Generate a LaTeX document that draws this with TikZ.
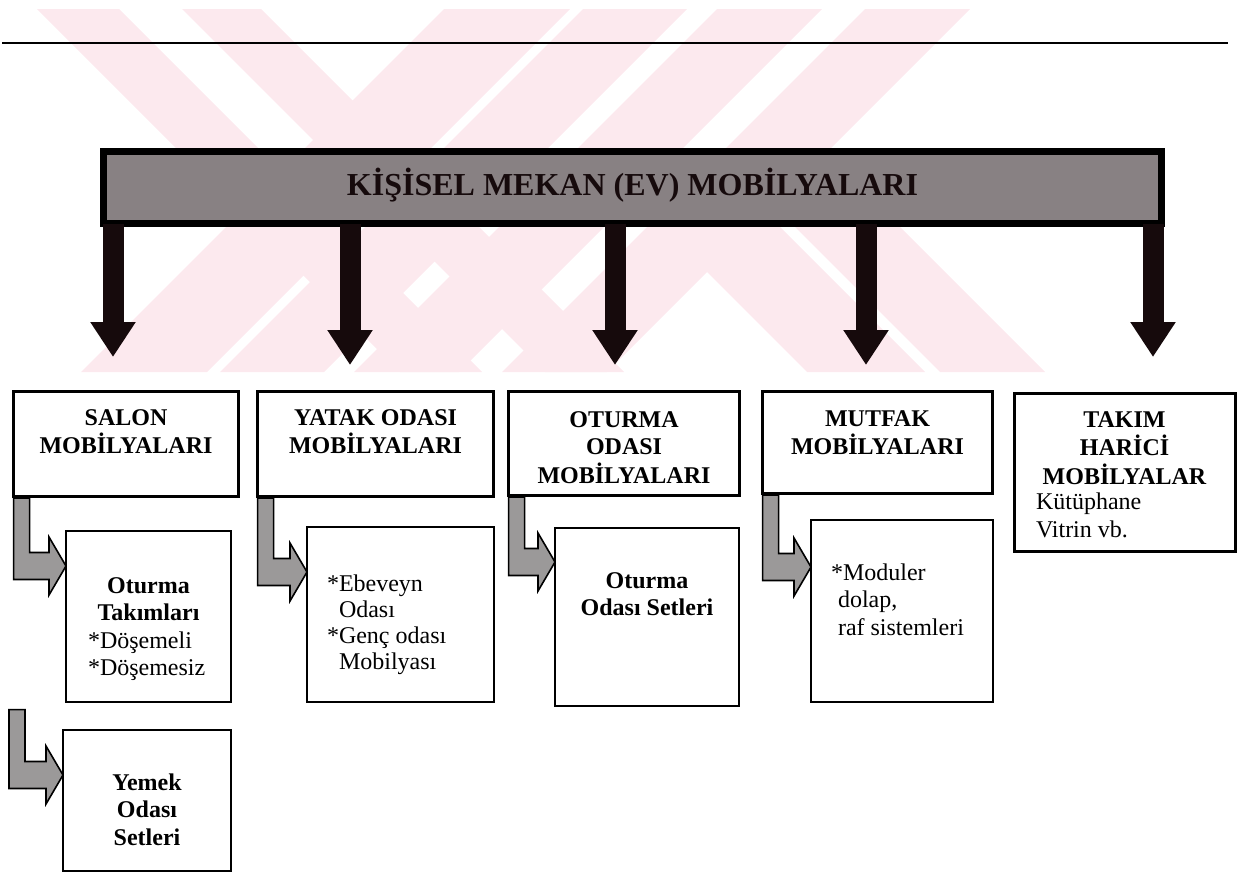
\documentclass[tikz,border=0pt]{standalone}
\usepackage{fontspec}
\setmainfont{Liberation Serif}
\usetikzlibrary{arrows.meta,calc}
\definecolor{wm}{RGB}{252,233,238}
\definecolor{barfill}{RGB}{136,129,131}
\definecolor{lfill}{RGB}{155,153,153}
\definecolor{ink}{RGB}{22,10,12}
\newcommand\tb[2]{\begin{tabular}[t]{@{}#1@{}}#2\end{tabular}}
% L-shaped block arrow from a start point (top-left of the stem) to a child box
\newcommand\Lconn[3]{\draw[larrow] let \p1=([yshift=-0.8pt]#1), \p2=($(#2.north west)+(0,#3)$) in
  (\x1,\y1) -- (\x1+8pt,\y1) -- (\x1+8pt,\y2+6.75pt) -- (\x2-8.5pt,\y2+6.75pt)
  -- (\x2-8.5pt,\y2+14.5pt) -- (\x2,\y2) -- (\x2-8.5pt,\y2-14.5pt)
  -- (\x2-8.5pt,\y2-6.75pt) -- (\x1,\y2-6.75pt) -- cycle;}
% watermark stripes: \wmB = down-right stripe, \wmS = down-left stripe (top edge given at y=#3)
\newcommand\wmB[3]{\fill[wm] (#1,#3) -- (#2,#3) -- ({#2+372-#3},372) -- ({#1+372-#3},372) -- cycle;}
\newcommand\wmS[2]{\fill[wm] (#1,9) -- (#2,9) -- ({#2-363},372) -- ({#1-363},372) -- cycle;}
\newcommand\bx[6]{\node[#6, minimum width={(#4-#2)*0.5pt}, minimum height={(#5-#3)*0.5pt}] (#1) at ({(#2+#4)/2},{(#3+#5)/2}) {};}
\begin{document}
\begin{tikzpicture}[x=0.5pt,y=-0.5pt,
  every node/.style={inner sep=0pt,outer sep=0pt},
  bigbox/.style={draw=black,line width=1.6pt,rectangle},
  subbox/.style={draw=black,line width=1pt,rectangle},
  txt/.style={anchor=base,font=\fontsize{12}{13.75}\selectfont},
  bold/.style={anchor=base,font=\fontsize{12}{13.75}\selectfont\bfseries},
  downarrow/.style={draw=ink,line width=10.5pt,-{Triangle[width=21.5pt,length=17.5pt]}},
  larrow/.style={draw=black,line width=0.8pt,fill=lfill,line join=miter}]
\useasboundingbox (0,0) rectangle (1240,873);

% watermark
\wmB{37}{119}{9}
\wmB{182}{261}{9}
\wmS{444}{570}
\wmS{583}{687}
\wmS{717}{822}
\wmS{865}{970}
\wmB{583}{701}{148}
\wmB{716}{821}{148}

% top rule
\draw[line width=1pt,black] (2,42.5) -- (1228,42.5);

% header bar
\node[draw=black,line width=3.5pt,fill=barfill,minimum width=529pt,minimum height=36pt,
  text height=7.5pt,text depth=0pt,text=ink,font=\fontsize{16}{18}\selectfont\bfseries]
  (bar) at (632.5,187.5) {KİŞİSEL MEKAN (EV) MOBİLYALARI};

% main boxes
\bx{salon}{13.6}{391.6}{238.4}{496.4}{bigbox}
\bx{yatak}{257.6}{391.6}{493.4}{496.4}{bigbox}
\bx{oturma}{508.6}{391.6}{739.4}{495.4}{bigbox}
\bx{mutfak}{762.6}{391.6}{992.4}{493.4}{bigbox}
\bx{takim}{1014.6}{393.6}{1235.4}{551.4}{bigbox}

% sub boxes
\bx{takimlari}{66}{531}{231}{702}{subbox}
\bx{ebeveyn}{307}{527}{494}{702}{subbox}
\bx{setleri}{555}{528}{739}{706}{subbox}
\bx{moduler}{811}{520}{993}{702}{subbox}
\bx{yemek}{63}{730}{231}{871}{subbox}

% down arrows from the bar
\coordinate (t1) at (113,357);
\coordinate (t2) at (350,365);
\coordinate (t3) at (615,365);
\coordinate (t4) at (866,365);
\coordinate (t5) at (1153,357);
\draw[downarrow] (t1 |- bar.south) -- (t1);
\draw[downarrow] (t2 |- bar.south) -- (t2);
\draw[downarrow] (t3 |- bar.south) -- (t3);
\draw[downarrow] (t4 |- bar.south) -- (t4);
\draw[downarrow] (t5 |- bar.south) -- (t5);

% L-shaped arrows
\Lconn{salon.south west}{takimlari}{35}
\Lconn{yatak.south west}{ebeveyn}{45}
\Lconn{oturma.south west}{setleri}{34}
\Lconn{mutfak.south west}{moduler}{47}
\path (salon.south west |- takimlari.south) ++(-4.6,6) coordinate (ys);
\Lconn{ys}{yemek}{45}

% texts
\node[bold] (salonT) at (126,425) {\tb{c}{SALON\\MOBİLYALARI}};
\node[bold] (yatakT) at (375.5,425) {\tb{c}{YATAK ODASI\\MOBİLYALARI}};
\node[bold] (oturmaT) at (624,427) {\tb{c}{OTURMA\\ODASI\\MOBİLYALARI}};
\node[bold] (mutfakT) at (877.5,426) {\tb{c}{MUTFAK\\MOBİLYALARI}};
\node[bold] (takimT) at (1124.5,427) {\tb{c}{TAKIM\\HARİCİ\\MOBİLYALAR}};
\node[txt,anchor=base west] (takimI) at (1036,509.5) {\tb{l}{Kütüphane\\Vitrin vb.}};

\node[bold] (takimlariT) at (148.5,593) {\tb{c}{Oturma\\Takımları}};
\node[txt,anchor=base west] (takimlariI) at (88,648) {\tb{l}{*Döşemeli\\{}*Döşemesiz}};
\node[txt,anchor=base west,font=\fontsize{12}{13}\selectfont] (ebeveynT) at (327,591)
  {\tb{l}{*Ebeveyn\\\phantom{*}Odası\\{}*Genç odası\\\phantom{*}Mobilyası}};
\node[bold] (setleriT) at (647,588) {\tb{c}{Oturma\\Odası Setleri}};
\node[txt,anchor=base west] (modulerT) at (831,580) {\tb{l}{*Moduler\\\hspace{3.5pt}dolap,\\\hspace{3.5pt}raf sistemleri}};
\node[bold] (yemekT) at (147,790) {\tb{c}{Yemek\\Odası\\Setleri}};
\end{tikzpicture}
\end{document}
